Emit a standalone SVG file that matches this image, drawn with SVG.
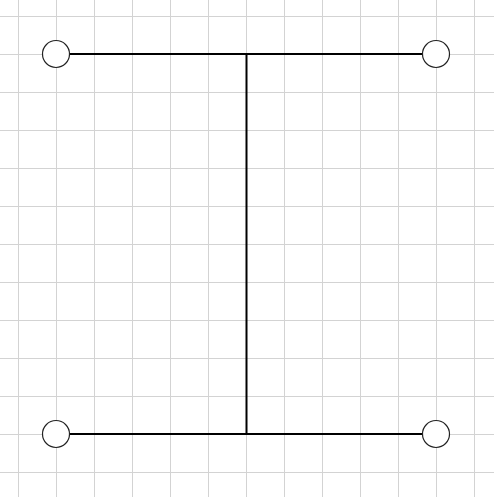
<svg xmlns="http://www.w3.org/2000/svg" width="494" height="497" viewBox="0 0 494 497">
<defs>
<style>
.grid line{stroke:#d3d3d3;stroke-width:1}
.conn{stroke:#000;stroke-width:2;fill:none}
.node{fill:#fff;stroke:#222;stroke-width:1.2}
</style>
<pattern id="g" x="18" y="16" width="38" height="38" patternUnits="userSpaceOnUse">
<path d="M0.5 0V38M0 0.5H38" stroke="#d3d3d3" stroke-width="1" fill="none"/>
</pattern>
</defs>
<rect width="494" height="497" fill="#fff"/>
<rect width="494" height="497" fill="url(#g)"/>
<g id="connectors">
<path class="conn" d="M69.5 54H422.5"/>
<path class="conn" d="M69.5 434H422.5"/>
<path class="conn" d="M246.5 54V434"/>
</g>
<g id="n1"><circle class="node" cx="56" cy="54" r="13.5"/></g>
<g id="n2"><circle class="node" cx="436" cy="54" r="13.5"/></g>
<g id="n3"><circle class="node" cx="56" cy="434" r="13.5"/></g>
<g id="n4"><circle class="node" cx="436" cy="434" r="13.5"/></g>
</svg>
